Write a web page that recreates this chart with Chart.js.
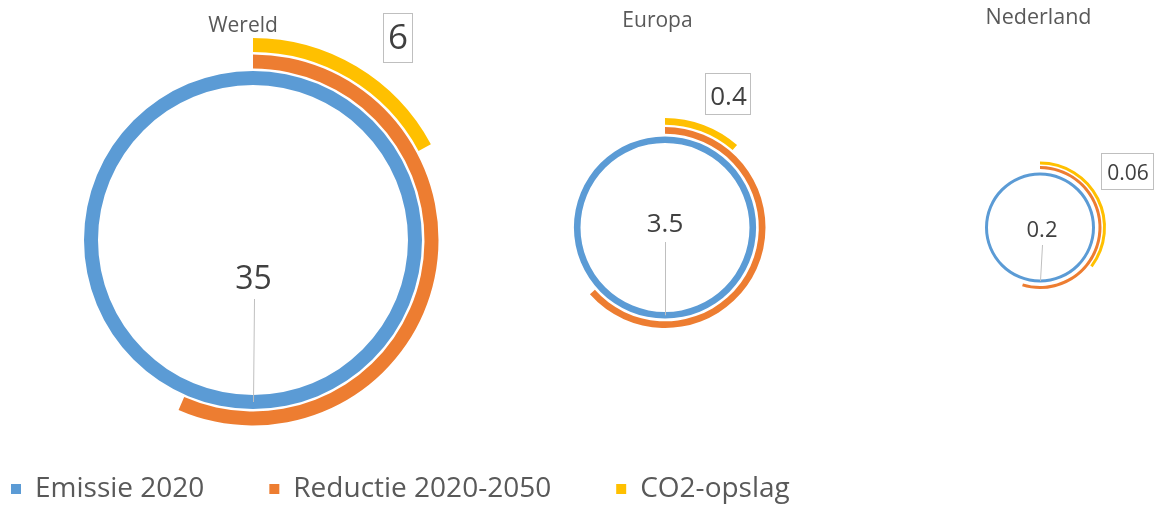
<!DOCTYPE html>
<html>
<head>
<meta charset="utf-8">
<script src="https://cdn.jsdelivr.net/npm/chart.js@4.4.1/dist/chart.umd.min.js"></script>
<style>
html, body { margin: 0; padding: 0; background: #ffffff; overflow: hidden; width: 1154px; height: 505px; }
#wrap { position: relative; width: 1154px; height: 505px; overflow: hidden; }
#wrap canvas { position: absolute; }
</style>
</head>
<body>
<div id="wrap">
  <canvas id="ring0" width="1154" height="505" style="left:0;top:0"></canvas>
  <canvas id="ring1" width="1154" height="505" style="left:0;top:0"></canvas>
  <canvas id="ring2" width="1154" height="505" style="left:0;top:0"></canvas>
  <canvas id="legendCanvas" width="1260" height="200" style="left:-54px;top:410px"></canvas>
</div>
<script>
// ---------- DATA ----------
const regions = ['Wereld', 'Europa', 'Nederland'];
const seriesNames = ['Emissie 2020', 'Reductie 2020-2050', 'CO2-opslag'];
const emissie2020 = [35, 3.5, 0.17];
const reductie20202050 = [19.8, 2.22, 0.093];
const co2Opslag = [6, 0.4, 0.06];

// ---------- STYLES ----------
const seriesColors = ['#5B9BD5', '#ED7D31', '#FFC000'];
const CLEAR = 'rgba(0,0,0,0)';
const FONT = '"Open Sans", "Noto Sans", sans-serif';
Chart.defaults.font.family = FONT;

// ---------- GEOMETRY (positions & sizes) ----------
// weights: [opslag, gap, reductie, gap, emissie] ring thicknesses (px)
const GEOM = [
  { cx: 253, cy: 240, outer: 202, weights: [14, 2.5, 14, 2.5, 14],
    title: { x: 243, y: 32, size: 21 },
    value: { x: 253.5, y: 288.5, size: 32, leadTop: 299 },
    box: { x: 383.5, y: 13.5, w: 29, h: 49, size: 35, tx: 398, ty: 49 } },
  { cx: 665, cy: 227.5, outer: 109.5, weights: [6.7, 2.3, 6.7, 2.7, 6.6],
    title: { x: 657.5, y: 27, size: 21 },
    value: { x: 665, y: 232, size: 26, leadTop: 242 },
    box: { x: 705.5, y: 73.5, w: 45, h: 41, size: 26, tx: 728.5, ty: 105 } },
  { cx: 1040, cy: 227.5, outer: 66, weights: [3, 1.5, 3, 3.5, 3],
    title: { x: 1038.5, y: 24, size: 21.5 },
    value: { x: 1042, y: 236.5, size: 22, leadTop: 245 },
    box: { x: 1101.5, y: 153.5, w: 52, h: 36, size: 21, tx: 1128, ty: 180 } }
];

function fmtEmission(v) { return String(Math.round(v * 10) / 10); }

const ringLabels = {
  id: 'ringLabels',
  afterDraw(chart, args, opts) {
    const g = opts.geom;
    const ctx = chart.ctx;
    const meta = chart.getDatasetMeta(chart.data.datasets.length - 1);
    const arc = meta.data[0];
    const ringMid = (arc.innerRadius + arc.outerRadius) / 2;
    ctx.save();
    ctx.textAlign = 'center';
    ctx.textBaseline = 'alphabetic';
    // title
    ctx.fillStyle = '#595959';
    ctx.font = g.title.size + 'px ' + FONT;
    ctx.fillText(opts.title, g.title.x, g.title.y);
    // emission value + leader line
    ctx.fillStyle = '#404040';
    ctx.font = g.value.size + 'px ' + FONT;
    ctx.fillText(opts.valueText, g.value.x, g.value.y);
    ctx.strokeStyle = '#BFBFBF';
    ctx.lineWidth = 1;
    ctx.beginPath();
    ctx.moveTo(Math.round(g.value.x) + 0.5, g.value.leadTop);
    ctx.lineTo(Math.round(arc.x) + 0.5, arc.y + ringMid);
    ctx.stroke();
    // boxed storage label
    ctx.strokeStyle = '#BFBFBF';
    ctx.strokeRect(g.box.x, g.box.y, g.box.w, g.box.h);
    ctx.font = g.box.size + 'px ' + FONT;
    ctx.fillStyle = '#404040';
    ctx.fillText(opts.boxText, g.box.tx, g.box.ty);
    ctx.restore();
  }
};

function makeRing(i) {
  const g = GEOM[i];
  const total = emissie2020[i];
  const w = g.weights;
  const sumW = w.reduce((a, b) => a + b, 0);
  const R = g.outer;
  const datasets = [
    { label: seriesNames[2], data: [co2Opslag[i], total - co2Opslag[i]],
      backgroundColor: [seriesColors[2], CLEAR], weight: w[0] },
    { label: 'gap', data: [1], backgroundColor: [CLEAR], weight: w[1] },
    { label: seriesNames[1], data: [reductie20202050[i], total - reductie20202050[i]],
      backgroundColor: [seriesColors[1], CLEAR], weight: w[2] },
    { label: 'gap', data: [1], backgroundColor: [CLEAR], weight: w[3] },
    { label: seriesNames[0], data: [emissie2020[i]],
      backgroundColor: [seriesColors[0]], weight: w[4] }
  ];
  return new Chart(document.getElementById('ring' + i), {
    type: 'doughnut',
    data: { labels: [regions[i], ''], datasets },
    options: {
      responsive: false,
      animation: false,
      devicePixelRatio: 1,
      events: [],
      radius: R,
      cutout: R - sumW,
      elements: { arc: { borderWidth: 0 } },
      layout: { padding: { left: g.cx - R, top: g.cy - R, right: 1154 - g.cx - R, bottom: 505 - g.cy - R } },
      plugins: {
        legend: { display: false },
        tooltip: { enabled: false },
        ringLabels: { geom: g, title: regions[i], valueText: fmtEmission(emissie2020[i]), boxText: String(co2Opslag[i]) }
      }
    },
    plugins: [ringLabels]
  });
}

regions.forEach((r, i) => makeRing(i));

// legend
new Chart(document.getElementById('legendCanvas'), {
  type: 'bar',
  data: {
    labels: [],
    datasets: seriesNames.map((n, k) => ({ label: n, data: [], backgroundColor: seriesColors[k], borderWidth: 0 }))
  },
  options: {
    responsive: false,
    animation: false,
    devicePixelRatio: 1,
    events: [],
    scales: { x: { display: false }, y: { display: false } },
    plugins: {
      tooltip: { enabled: false },
      legend: {
        position: 'top',
        align: 'start',
        labels: { boxWidth: 10, boxHeight: 10, padding: 65, color: '#595959', font: { family: FONT, size: 28 } }
      }
    }
  }
});
</script>
</body>
</html>
